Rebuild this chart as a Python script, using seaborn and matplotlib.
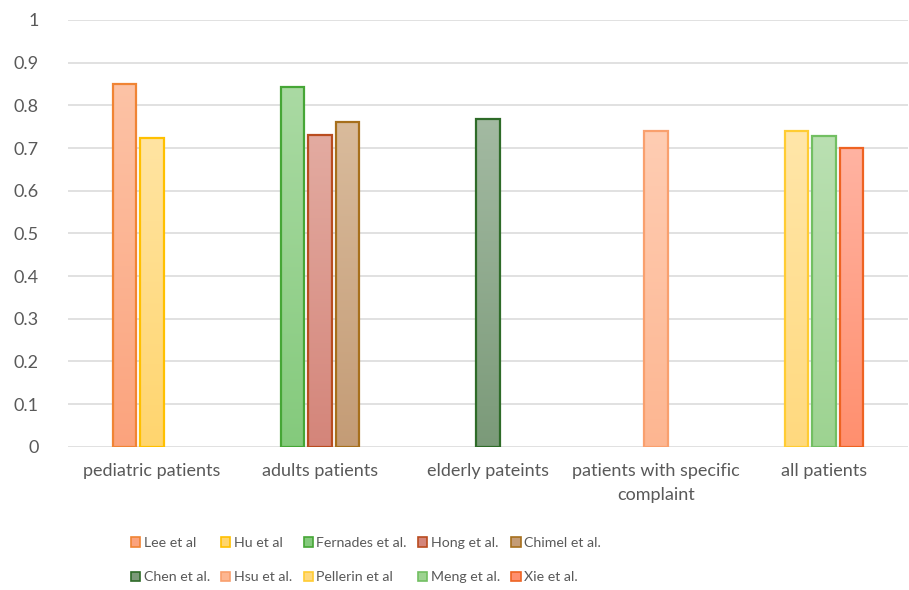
import numpy as np
import pandas as pd
import matplotlib
matplotlib.use("Agg")
import matplotlib.pyplot as plt
import seaborn as sns
from matplotlib.patches import Patch
from matplotlib.colors import LinearSegmentedColormap
from matplotlib.ticker import FuncFormatter

# ---- data ----
categories = ["pediatric patients", "adults patients", "elderly pateints",
              "patients with specific complaint", "all patients"]
category_labels = ["pediatric patients", "adults patients", "elderly pateints",
                   "patients with specific\ncomplaint", "all patients"]
studies = ["Lee et al", "Hu et al", "Fernades et al.", "Hong et al.", "Chimel et al.",
           "Chen et al.", "Hsu et al.", "Pellerin et al", "Meng et al.", "Xie et al."]
study_category = ["pediatric patients", "pediatric patients", "adults patients",
                  "adults patients", "adults patients", "elderly pateints",
                  "patients with specific complaint", "all patients",
                  "all patients", "all patients"]
study_slot = [0, 1, 0, 1, 2, 1, 1, 0, 1, 2]
values = [0.85, 0.724, 0.843, 0.731, 0.762, 0.769, 0.741, 0.741, 0.729, 0.70]
yticks = [0, 0.1, 0.2, 0.3, 0.4, 0.5, 0.6, 0.7, 0.8, 0.9, 1]

# style: (top colour, bottom colour, edge colour)
colors_top = ["#FDC3A6", "#FFE4A2", "#AADAA3", "#E3ABA1", "#D9BB9C",
              "#A3BAA2", "#FFCDB3", "#FFE6A9", "#BAE0B2", "#FFB3A2"]
colors_bottom = ["#FBA37D", "#FFD56E", "#84CA7C", "#D4857A", "#C49C76",
                 "#7B9A79", "#FDB691", "#FFD97E", "#9DD391", "#FF8F6E"]
colors_edge = ["#F08434", "#FFC000", "#46A636", "#B94C1F", "#A66F1C",
               "#2E6B28", "#F9A06E", "#FFCC33", "#72BF62", "#EE6322"]

df = pd.DataFrame({"category": study_category, "value": values,
                   "slot": study_slot, "study": studies})

plt.rcParams["font.family"] = ["Lato", "DejaVu Sans"]
fig = plt.figure(figsize=(9.09, 5.90), dpi=100)
ax = fig.add_axes([68 / 909, (590 - 446.7) / 590, (908 - 68) / 909, (446.7 - 20) / 590])

sns.barplot(data=df, x="category", y="value", hue="slot", order=categories,
            hue_order=[0, 1, 2], width=0.49, gap=0.16, dodge=True,
            palette=["#cccccc"] * 3, ax=ax, legend=False, errorbar=None)

ax.set_ylim(0, 1)
xlim = ax.get_xlim()

cat_index = {c: i for i, c in enumerate(categories)}
bars = [p for p in ax.patches if p.get_height() > 0]
for p in bars:
    xc = p.get_x() + p.get_width() / 2
    h = p.get_height()
    best = None
    for k in range(len(studies)):
        if abs(h - values[k]) < 1e-9:
            ci = cat_index[study_category[k]]
            d = abs(xc - ci)
            if best is None or d < best[0]:
                best = (d, k)
    k = best[1]
    p.set_facecolor("none")
    p.set_edgecolor(colors_edge[k])
    p.set_linewidth(1.6)
    p.set_zorder(3)
    cmap = LinearSegmentedColormap.from_list("g", [colors_bottom[k], colors_top[k]])
    grad = np.linspace(0, 1, 256).reshape(-1, 1)
    im = ax.imshow(grad, cmap=cmap, origin="lower", aspect="auto",
                   extent=[p.get_x(), p.get_x() + p.get_width(), 0, h], zorder=2)
    im.set_clip_path(p)

ax.set_xlim(xlim)
ax.set_ylim(0, 1)
ax.set_aspect("auto")

ax.set_yticks(yticks)
ax.yaxis.set_major_formatter(FuncFormatter(lambda v, _: f"{v:g}"))
ax.set_xticks(range(len(categories)))
ax.set_xticklabels(category_labels, linespacing=1.6)
ax.tick_params(axis="y", length=0, pad=21, labelsize=13, labelcolor="#595959")
ax.tick_params(axis="x", length=0, pad=12, labelsize=13, labelcolor="#595959")
ax.grid(axis="y", color="#D9D9D9", linewidth=1.1, zorder=0)
ax.set_axisbelow(True)
for s in ax.spines.values():
    s.set_visible(False)
ax.set_xlabel("")
ax.set_ylabel("")

# legend: two rows of five (matplotlib fills column-wise, so reorder)
handles = [Patch(facecolor=colors_bottom[k], edgecolor=colors_edge[k], linewidth=1.2,
                 label=studies[k]) for k in range(len(studies))]
order = [0, 5, 1, 6, 2, 7, 3, 8, 4, 9]
leg = fig.legend([handles[i] for i in order], [studies[i] for i in order],
                 loc="center", bbox_to_anchor=(366 / 909, 1 - 560 / 590),
                 ncol=5, frameon=False, borderpad=0, borderaxespad=0,
                 fontsize=10.2, handlelength=0.65, handleheight=0.7,
                 handletextpad=0.25, columnspacing=0.8, labelspacing=1.62)
for t in leg.get_texts():
    t.set_color("#595959")

fig.savefig("out.png", dpi=100)
